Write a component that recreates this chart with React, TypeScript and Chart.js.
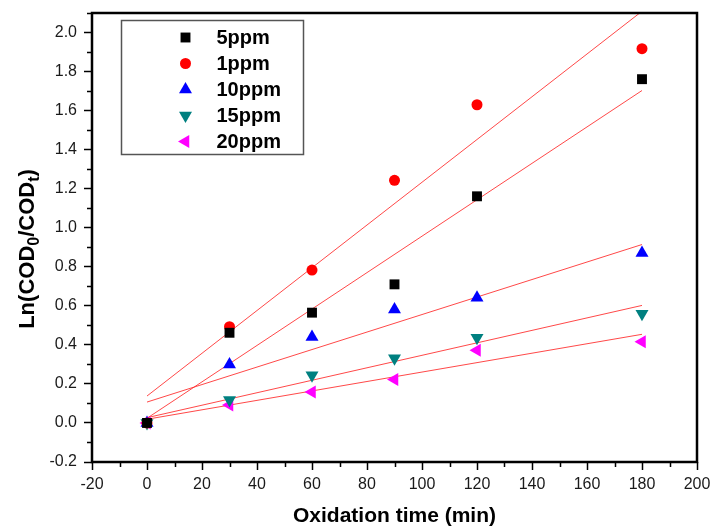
import { useEffect, useRef } from 'react';
import { Chart, registerables } from 'chart.js';

Chart.register(...registerables);

// Oxidation time (min)
const times = [0, 30, 60, 90, 120, 180];
// Ln(COD0/CODt) per dosage
const ppm5 = [0, 0.462, 0.565, 0.71, 1.161, 1.761];
const ppm1 = [0, 0.493, 0.783, 1.243, 1.63, 1.917];
const ppm10 = [0, 0.3, 0.44, 0.581, 0.641, 0.871];
const ppm15 = [0, 0.118, 0.244, 0.331, 0.436, 0.559];
const ppm20 = [0, 0.092, 0.159, 0.222, 0.372, 0.416];

// Linear fit lines (endpoints at t = 0 and t = 180)
const fitTimes = [0, 180];
const fit5 = [0.024, 1.703];
const fit1 = [0.138, 2.109];
const fit10 = [0.107, 0.914];
const fit15 = [0.027, 0.602];
const fit20 = [0.019, 0.454];

const xTicks = [-20, 0, 20, 40, 60, 80, 100, 120, 140, 160, 180, 200];
const xMinor = [-10, 10, 30, 50, 70, 90, 110, 130, 150, 170, 190];
const yTicks = [-0.2, 0, 0.2, 0.4, 0.6, 0.8, 1.0, 1.2, 1.4, 1.6, 1.8, 2.0];
const yMinor = [-0.1, 0.1, 0.3, 0.5, 0.7, 0.9, 1.1, 1.3, 1.5, 1.7, 1.9, 2.1];

const seriesNames = ['5ppm', '1ppm', '10ppm', '15ppm', '20ppm'];
const seriesValues = [ppm5, ppm1, ppm10, ppm15, ppm20];
const fitValues = [fit5, fit1, fit10, fit15, fit20];
const seriesColors = ['#000000', '#ff0000', '#0000ff', '#008080', '#ff00ff'];
const seriesStyles = ['rect', 'circle', 'triangle', 'triangle', 'triangle'];
const seriesRotation = [0, 0, 0, 180, 270];
const seriesRadius = [7, 5.5, 7.5, 7.5, 7.5];

const FONT = '"Liberation Sans", Arial, Helvetica, sans-serif';

function legendMarker(ctx: CanvasRenderingContext2D, style: string, r: number, rot: number, x: number, y: number) {
  ctx.beginPath();
  if (style === 'circle') {
    ctx.arc(x, y, r, 0, Math.PI * 2);
  } else if (style === 'rect') {
    const s = Math.SQRT1_2 * r;
    ctx.rect(x - s, y - s, 2 * s, 2 * s);
  } else {
    const base = (rot * Math.PI) / 180;
    for (let k = 0; k < 3; k++) {
      const ang = base + (k * 2 * Math.PI) / 3 - Math.PI / 2;
      const px = x + Math.cos(ang) * r;
      const py = y + Math.sin(ang) * r;
      if (k === 0) ctx.moveTo(px, py);
      else ctx.lineTo(px, py);
    }
    ctx.closePath();
  }
  ctx.fill();
}

const decorPlugin = {
  id: 'decor',
  afterDraw(chart: any) {
    const { ctx, chartArea: a, scales } = chart;
    const xs = scales.x;
    const ys = scales.y;
    ctx.save();
    // minor ticks
    ctx.strokeStyle = '#000';
    ctx.lineWidth = 1.5;
    ctx.beginPath();
    xMinor.forEach((v) => {
      const px = Math.round(xs.getPixelForValue(v)) + 0.5;
      ctx.moveTo(px, a.bottom);
      ctx.lineTo(px, a.bottom + 5);
    });
    yMinor.forEach((v) => {
      const py = Math.round(ys.getPixelForValue(v)) + 0.5;
      ctx.moveTo(a.left, py);
      ctx.lineTo(a.left - 5, py);
    });
    ctx.stroke();
    // frame
    ctx.lineWidth = 2.5;
    ctx.strokeRect(a.left, a.top, a.right - a.left, a.bottom - a.top);

    // legend
    const bx = a.left + 29.5;
    const by = a.top + 7.5;
    const bw = 182;
    const bh = 134;
    ctx.fillStyle = '#fff';
    ctx.fillRect(bx, by, bw, bh);
    ctx.strokeStyle = '#555';
    ctx.lineWidth = 1.5;
    ctx.strokeRect(bx, by, bw, bh);
    ctx.font = `bold 20px ${FONT}`;
    ctx.textBaseline = 'middle';
    ctx.textAlign = 'left';
    seriesNames.forEach((name, i) => {
      const cy = by + 17 + i * 26;
      ctx.fillStyle = seriesColors[i];
      legendMarker(ctx, seriesStyles[i], seriesRadius[i], seriesRotation[i], bx + 64, cy);
      ctx.fillStyle = '#000';
      ctx.fillText(name, bx + 95, cy + 1);
    });

    // x title
    ctx.fillStyle = '#000';
    ctx.font = `bold 21px ${FONT}`;
    ctx.textAlign = 'center';
    ctx.textBaseline = 'middle';
    ctx.fillText('Oxidation time (min)', (a.left + a.right) / 2, 516);

    // y title with subscripts
    const parts: [string, boolean][] = [
      ['Ln(COD', false],
      ['0', true],
      ['/COD', false],
      ['t', true],
      [')', false],
    ];
    const mainFont = `bold 22px ${FONT}`;
    const subFont = `bold 16px ${FONT}`;
    let total = 0;
    parts.forEach(([t, sub]) => {
      ctx.font = sub ? subFont : mainFont;
      total += ctx.measureText(t).width;
    });
    ctx.translate(28, 249);
    ctx.rotate(-Math.PI / 2);
    ctx.textAlign = 'left';
    let cx = -total / 2;
    parts.forEach(([t, sub]) => {
      ctx.font = sub ? subFont : mainFont;
      ctx.fillText(t, cx, sub ? 7 : 0);
      cx += ctx.measureText(t).width;
    });
    ctx.restore();
  },
};

export default function App() {
  const ref = useRef<HTMLCanvasElement>(null);
  useEffect(() => {
    document.body.style.margin = '0';
    const canvas = ref.current!;
    const datasets: any[] = [];
    seriesNames.forEach((name, i) => {
      datasets.push({
        label: name,
        data: times.map((t, j) => ({ x: t, y: seriesValues[i][j] })),
        showLine: false,
        pointStyle: seriesStyles[i],
        pointRotation: seriesRotation[i],
        pointRadius: seriesRadius[i],
        pointBackgroundColor: seriesColors[i],
        pointBorderColor: seriesColors[i],
        pointBorderWidth: 0,
        order: 1,
      });
    });
    fitValues.forEach((f, i) => {
      datasets.push({
        label: 'fit ' + seriesNames[i],
        data: fitTimes.map((t, j) => ({ x: t, y: f[j] })),
        showLine: true,
        borderColor: 'rgba(255,40,40,0.85)',
        borderWidth: 1,
        pointRadius: 0,
        fill: false,
        order: 2,
      });
    });
    const chart = new Chart(canvas, {
      type: 'scatter',
      data: { datasets },
      options: {
        responsive: false,
        animation: false,
        layout: { padding: { left: 0, top: 13, right: 15, bottom: 0 } },
        plugins: { legend: { display: false }, tooltip: { enabled: false } },
        scales: {
          x: {
            type: 'linear',
            min: -20,
            max: 200,
            afterBuildTicks: (s: any) => {
              s.ticks = xTicks.map((v) => ({ value: v }));
            },
            afterFit: (s: any) => {
              s.height = 66;
              s.paddingLeft = 0;
              s.paddingRight = 0;
            },
            grid: {
              drawOnChartArea: false,
              drawTicks: true,
              tickLength: 8,
              tickColor: '#000',
              tickWidth: 1.5,
            },
            border: { display: false },
            ticks: {
              padding: 5,
              color: '#1a1a1a',
              font: { family: FONT, size: 16 },
              maxRotation: 0,
              autoSkip: false,
              callback: (v: any) => String(v),
            },
          },
          y: {
            type: 'linear',
            min: -0.2,
            max: 2.1,
            afterBuildTicks: (s: any) => {
              s.ticks = yTicks.map((v) => ({ value: v }));
            },
            afterFit: (s: any) => {
              s.width = 92;
              s.paddingTop = 0;
              s.paddingBottom = 0;
            },
            grid: {
              drawOnChartArea: false,
              drawTicks: true,
              tickLength: 8,
              tickColor: '#000',
              tickWidth: 1.5,
            },
            border: { display: false },
            ticks: {
              padding: 7,
              color: '#1a1a1a',
              font: { family: FONT, size: 16 },
              autoSkip: false,
              callback: (v: any) => Number(v).toFixed(1),
            },
          },
        },
      },
      plugins: [decorPlugin],
    });
    return () => chart.destroy();
  }, []);
  return <canvas ref={ref} width={712} height={528} style={{ display: 'block' }} />;
}
